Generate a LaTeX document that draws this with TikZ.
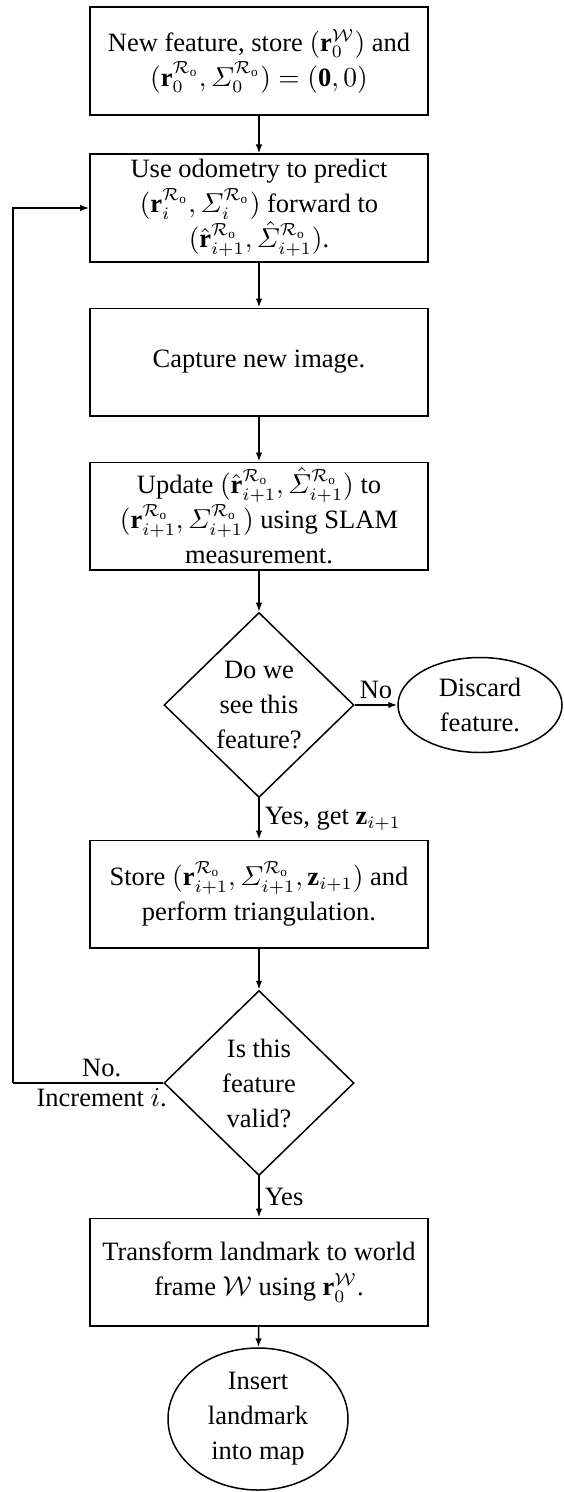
\documentclass[tikz,border=0pt]{standalone}
\usepackage{amsmath}
\usepackage{fontspec}
\setmainfont{Liberation Serif}
\usetikzlibrary{shapes.geometric,arrows.meta}
\newcommand{\Ro}{\mathcal{R}_\mathrm{o}}
\begin{document}
\begin{tikzpicture}[x=0.4pt,y=-0.4pt,
  font=\fontsize{10.6pt}{14pt}\selectfont,
  every node/.style={line width=0.6pt},
  procbox/.style={draw,rectangle,align=center,minimum width=135.2pt,minimum height=43pt,inner sep=1pt},
  decide/.style={draw,diamond,align=center,minimum width=76pt,minimum height=74pt,inner sep=0pt},
  term/.style={draw,ellipse,align=center,inner sep=0pt},
  arr/.style={line width=0.6pt,-{Latex[length=3.6pt,width=2.6pt]}},
  lbl/.style={inner sep=2pt}]
\useasboundingbox (0,0) rectangle (564,1492);
\node[procbox] (b1) at (259,61) {New feature, store $(\mathbf{r}_0^{\mathcal{W}})$ and\\ $(\mathbf{r}_0^{\Ro}, \varSigma_0^{\Ro}) = (\mathbf{0},0)$};
\node[procbox] (b2) at (259,208) {Use odometry to predict\\ $(\mathbf{r}_i^{\Ro}, \varSigma_i^{\Ro})$ forward to\\ $(\hat{\mathbf{r}}_{i+1}^{\Ro}, \hat{\varSigma}_{i+1}^{\Ro})$.};
\node[procbox] (b3) at (259,362) {Capture new image.};
\node[procbox] (b4) at (259,516) {Update $(\hat{\mathbf{r}}_{i+1}^{\Ro}, \hat{\varSigma}_{i+1}^{\Ro})$ to\\ $(\mathbf{r}_{i+1}^{\Ro}, \varSigma_{i+1}^{\Ro})$ using SLAM\\ measurement.};
\node[decide] (d1) at (259,705) {Do we\\ see this\\ feature?};
\node[term,minimum width=65.6pt,minimum height=38pt] (e1) at (480,705) {Discard\\ feature.};
\node[procbox] (b5) at (259,894) {Store $(\mathbf{r}_{i+1}^{\Ro}, \varSigma_{i+1}^{\Ro}, \mathbf{z}_{i+1})$ and\\ perform triangulation.};
\node[decide] (d2) at (259,1083) {Is this\\ feature\\ valid?};
\node[procbox] (b6) at (259,1272) {Transform landmark to world\\ frame $\mathcal{W}$ using $\mathbf{r}_0^{\mathcal{W}}$.};
\node[term,minimum width=72pt,minimum height=56.8pt] (e2) at (258,1419) {Insert\\ landmark\\ into map};
\coordinate (lp) at (13,1083);
\draw[arr] (b1) -- (b2);
\draw[arr] (b2) -- (b3);
\draw[arr] (b3) -- (b4);
\draw[arr] (b4) -- (d1);
\draw[arr] (d1) -- node[lbl,above]{No} (e1);
\draw[arr] (d1) -- node[lbl,right]{Yes, get $\mathbf{z}_{i+1}$} (b5);
\draw[arr] (b5) -- (d2);
\draw[arr] (d2) -- node[lbl,right]{Yes} (b6);
\draw[arr] (b6) -- (e2);
\draw[line width=0.6pt] (d2.west) -- node[pos=0.41,above,lbl]{No.} node[pos=0.41,below,lbl]{Increment $i$.} (lp);
\draw[arr] (lp) |- (b2.west);
\end{tikzpicture}
\end{document}
